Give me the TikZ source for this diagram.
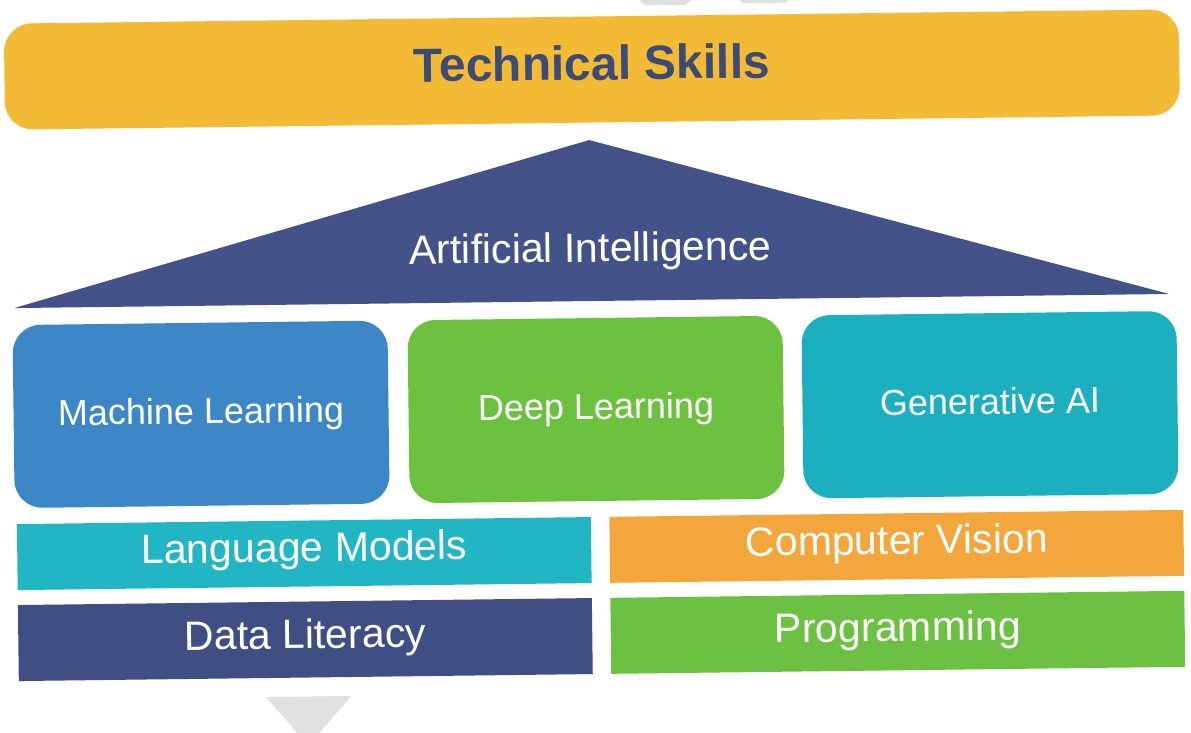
\documentclass[tikz,border=0pt]{standalone}
\usepackage{fontspec}
\setmainfont{Liberation Sans}
\definecolor{skillyellow}{HTML}{F3BA35}
\definecolor{titlenavy}{HTML}{3B4A76}
\definecolor{ainavy}{HTML}{43538A}
\definecolor{mlblue}{HTML}{3E87C6}
\definecolor{dlgreen}{HTML}{6CC13F}
\definecolor{genteal}{HTML}{1CAFBF}
\definecolor{lmteal}{HTML}{22B5C4}
\definecolor{dlnavy}{HTML}{404F83}
\definecolor{cvorange}{HTML}{F2A63B}
\definecolor{proggreen}{HTML}{6CC042}
\definecolor{ghostgray}{HTML}{E0E0E0}
\tikzset{
  topbar/.style={fill=skillyellow, rounded corners=28pt, minimum width=1175pt, minimum height=106pt,
    inner sep=0pt, outer sep=0pt, text=titlenavy, font=\fontsize{48}{48}\selectfont\bfseries,
    text height=21pt, text depth=0pt},
  pillar/.style={rounded corners=28pt, minimum width=375pt, minimum height=183pt,
    inner sep=0pt, outer sep=0pt, text=white, font=\fontsize{36}{36}\selectfont,
    text height=19pt, text depth=0pt},
  slab/.style={minimum width=574pt, inner sep=0pt, outer sep=0pt, text=white,
    font=\fontsize{41}{41}\selectfont, text depth=0pt},
  slabtop/.style={slab, minimum height=66pt, text height=16pt},
  slabbot/.style={slab, minimum height=76pt, text height=18pt},
  roofword/.style={text=white, font=\fontsize{41}{41}\selectfont, inner sep=0pt, anchor=base}
}
\begin{document}
\begin{tikzpicture}[x=1pt,y=-1pt]
\fill[white] (0,0) rectangle (1191,733);
\useasboundingbox (0,0) rectangle (1191,733);
\begin{scope}[rotate around={0.7:(595.5,366.5)}, transform shape]
  % faint shapes at the edges
  \fill[ghostgray] (638,-4) -- (702,-4) -- (690,6) -- (650,6) -- cycle;
  \fill[ghostgray] (736,-4) -- (802,-4) -- (790,5) -- (748,5) -- cycle;
  \fill[ghostgray] (262,693) -- (347,693) -- (304,742) -- cycle;

  % top bar
  \node[topbar] (tech) at (595.5,69.5) {Technical Skills};

  % roof
  \coordinate (apex) at (592,140);
  \coordinate (roofl) at (15,301);
  \coordinate (roofr) at (1170,301);
  \fill[ainavy] (roofl) -- (apex) -- (roofr) -- cycle;
  \node[roofword] (ai) at (592,262) {Artificial Intelligence};

  % pillars
  \node[pillar, fill=mlblue] (ml) at (200.5,409.5) {Machine Learning};
  \node[pillar, fill=dlgreen] (dl) at (595.5,409.5) {Deep Learning};
  \node[pillar, fill=genteal] (gen) at (989.5,409.5) {Generative AI};

  % foundation slabs
  \node[slabtop, fill=lmteal] (lm) at (302,550) {Language Models};
  \node[slabtop, fill=cvorange] (cv) at (894.5,550) {Computer Vision};
  \node[slabbot, fill=dlnavy] (dlit) at (302,636) {Data Literacy};
  \node[slabbot, fill=proggreen] (prog) at (894.5,636) {Programming};
\end{scope}
\end{tikzpicture}
\end{document}
